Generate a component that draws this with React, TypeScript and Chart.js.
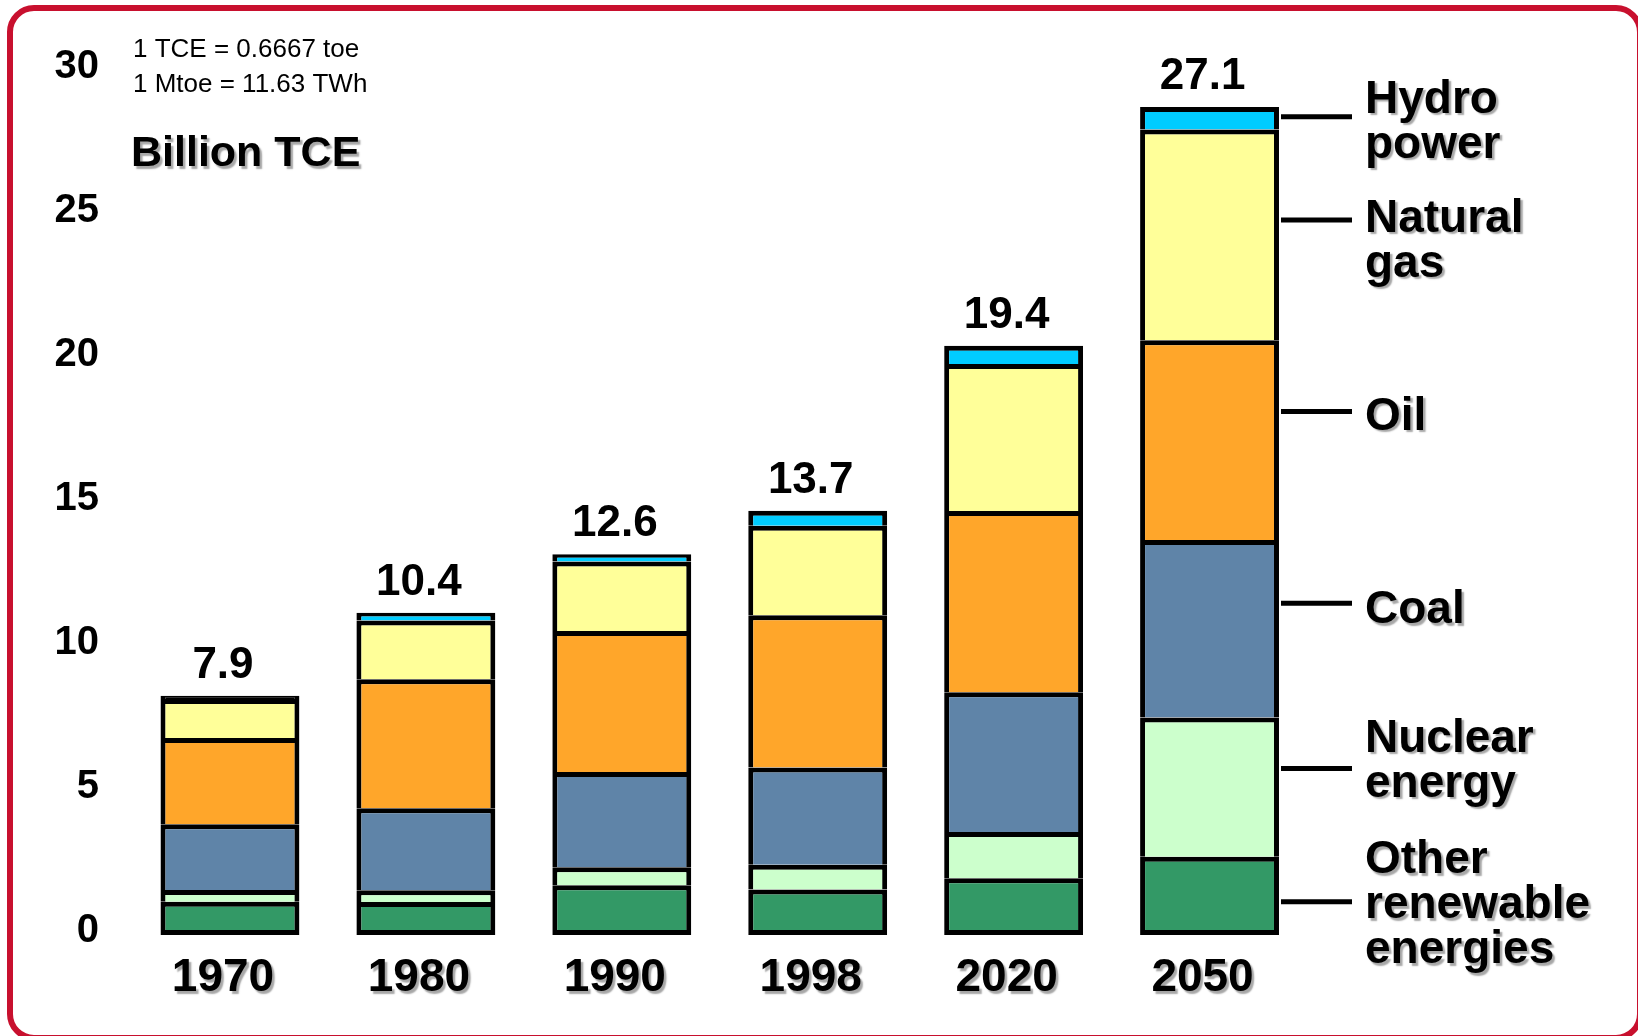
import React, { useEffect, useRef } from "react";
import { Chart, registerables } from "chart.js";

Chart.register(...registerables);

// ---- data ----
const categories = ["1970", "1980", "1990", "1998", "2020", "2050"];
const otherRenewables = [1.09, 1.08, 1.635, 1.49, 1.86, 2.57];
const nuclearEnergy = [0.39, 0.39, 0.59, 0.82, 1.52, 4.57];
const coal = [2.16, 2.69, 3.13, 3.19, 4.59, 5.83];
const oil = [2.83, 4.24, 4.63, 5.0, 5.95, 6.56];
const naturalGas = [1.28, 1.93, 2.28, 2.94, 4.83, 6.92];
const hydroPower = [0.11, 0.25, 0.24, 0.49, 0.6, 0.74];
const totals = [7.9, 10.4, 12.6, 13.7, 19.4, 27.1];
const yTickValues = [0, 5, 10, 15, 20, 25, 30];
const seriesLabels = [
  ["Other", "renewable", "energies"],
  ["Nuclear", "energy"],
  ["Coal"],
  ["Oil"],
  ["Natural", "gas"],
  ["Hydro", "power"],
];
const noteLines = ["1 TCE = 0.6667 toe", "1 Mtoe = 11.63 TWh"];
const unitLabel = "Billion TCE";

// ---- styling / annotation layout ----
const FONT = '"Liberation Sans", Arial, Helvetica, sans-serif';
const seriesColors = ["#339966", "#CCFFCC", "#5F84A8", "#FFA62A", "#FFFF99", "#00CCFF"];
// leader line anchor (in bar-scale units) and first-baseline offset (px) for side labels
const sideLabelLayout = [
  { anchor: 1.09, dy: -28.7 },
  { anchor: 5.47, dy: -16.6 },
  { anchor: 10.89, dy: 19.7 },
  { anchor: 17.19, dy: 18.3 },
  { anchor: 23.48, dy: 11.7 },
  { anchor: 26.87, dy: -3.7 },
];

function setShadow(ctx: CanvasRenderingContext2D, on: boolean) {
  if (on) {
    ctx.shadowColor = "rgba(0,0,0,0.35)";
    ctx.shadowOffsetX = 2.5;
    ctx.shadowOffsetY = 2.5;
    ctx.shadowBlur = 1.5;
  } else {
    ctx.shadowColor = "rgba(0,0,0,0)";
    ctx.shadowOffsetX = 0;
    ctx.shadowOffsetY = 0;
    ctx.shadowBlur = 0;
  }
}

const seriesData = [otherRenewables, nuclearEnergy, coal, oil, naturalGas, hydroPower];

const decorPlugin = {
  id: "decor",
  beforeDraw(chart: any) {
    const ctx: CanvasRenderingContext2D = chart.ctx;
    ctx.save();
    ctx.strokeStyle = "#C8102E";
    ctx.lineWidth = 6;
    ctx.beginPath();
    (ctx as any).roundRect(10, 8, 1630, 1030, 24);
    ctx.stroke();
    ctx.restore();
  },
  afterDatasetsDraw(chart: any) {
    const ctx: CanvasRenderingContext2D = chart.ctx;
    const xs = chart.scales.x;
    const ys = chart.scales.y;
    ctx.save();
    setShadow(ctx, false);
    ctx.fillStyle = "#000";

    // totals above bars
    ctx.font = `bold 44px ${FONT}`;
    ctx.textAlign = "center";
    ctx.textBaseline = "alphabetic";
    totals.forEach((t, i) => {
      const stackTop = seriesData.reduce((s, d) => s + d[i], 0);
      const x = xs.getPixelForTick(i) - 7;
      const y = ys.getPixelForValue(stackTop) - 18;
      ctx.fillText(t.toFixed(1), x, y);
    });

    // conversion notes
    ctx.textAlign = "left";
    ctx.font = `26px ${FONT}`;
    ctx.fillText(noteLines[0], 133, 57);
    ctx.fillText(noteLines[1], 133, 92);

    // leader lines
    ctx.strokeStyle = "#000";
    ctx.lineWidth = 5;
    sideLabelLayout.forEach((l) => {
      const y = ys.getPixelForValue(l.anchor);
      ctx.beginPath();
      ctx.moveTo(1281, y);
      ctx.lineTo(1352, y);
      ctx.stroke();
    });

    // shadowed texts
    setShadow(ctx, true);
    ctx.font = `bold 43px ${FONT}`;
    ctx.fillText(unitLabel, 131, 166);
    ctx.font = `bold 46px ${FONT}`;
    sideLabelLayout.forEach((l, k) => {
      const y = ys.getPixelForValue(l.anchor) + l.dy;
      seriesLabels[k].forEach((line, j) => {
        ctx.fillText(line, 1365, y + j * 45);
      });
    });
    ctx.restore();
    // leave shadow on for x-axis labels drawn next (z:1)
    setShadow(ctx, true);
  },
  afterDraw(chart: any) {
    setShadow(chart.ctx, false);
  },
};

export default function App() {
  const ref = useRef<HTMLCanvasElement | null>(null);
  useEffect(() => {
    document.body.style.margin = "0";
    document.body.style.overflow = "hidden";
    const canvas = ref.current;
    if (!canvas) return;
    const chart = new Chart(canvas, {
      type: "bar",
      data: {
        labels: categories,
        datasets: seriesData.map((d, k) => ({
          label: seriesLabels[k].join(" "),
          data: d,
          backgroundColor:
            k === 5
              ? (c: any) => (c.raw !== undefined && c.raw < 0.15 ? "#000" : seriesColors[k])
              : seriesColors[k],
          borderColor: "#000",
          borderWidth: 5,
          borderSkipped: k === 0 ? false : "start",
          categoryPercentage: 1,
          barPercentage: 0.709,
          xAxisID: "x",
          yAxisID: "y",
        })) as any,
      },
      options: {
        responsive: false,
        animation: false,
        layout: { padding: { top: 64.3, right: 330.5, bottom: 0, left: 0 } },
        plugins: {
          legend: { display: false },
          tooltip: { enabled: false },
          title: { display: false },
        },
        scales: {
          x: {
            type: "category",
            stacked: true,
            grid: { display: false, drawTicks: false },
            border: { display: false },
            ticks: {
              font: { family: FONT, size: 46, weight: "bold" },
              color: "#000",
              padding: 16,
              z: 1,
              maxRotation: 0,
              autoSkip: false,
              labelOffset: -7,
            },
            afterFit: (s: any) => {
              s.height = 101;
            },
          },
          y: {
            type: "linear",
            axis: "y",
            stacked: true,
            display: false,
            min: 0,
            max: 28.59,
          },
          yTicks: {
            type: "linear",
            axis: "y",
            position: "left",
            min: -0.128,
            max: 30.104,
            grid: { display: false, drawTicks: false },
            border: { display: false },
            ticks: {
              font: { family: FONT, size: 40, weight: "bold" },
              color: "#000",
              padding: 33,
            },
            afterBuildTicks: (s: any) => {
              s.ticks = yTickValues.map((v) => ({ value: v }));
            },
            afterFit: (s: any) => {
              s.width = 132;
            },
          },
        } as any,
      },
      plugins: [decorPlugin],
    });
    return () => chart.destroy();
  }, []);
  return (
    <div style={{ width: 1638, height: 1036, background: "#fff" }}>
      <canvas ref={ref} width={1638} height={1036} style={{ display: "block" }} />
    </div>
  );
}
